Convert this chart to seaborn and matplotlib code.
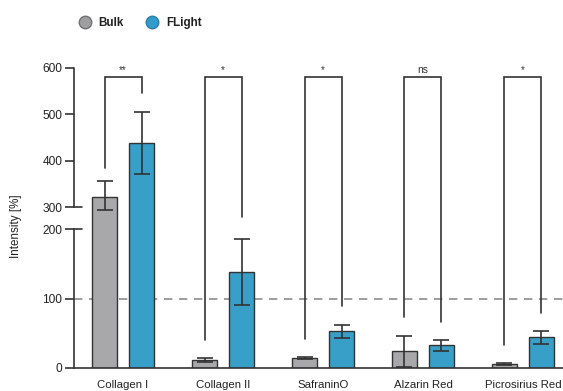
import numpy as np
import pandas as pd
import matplotlib
matplotlib.use("Agg")
import matplotlib.pyplot as plt
from matplotlib.lines import Line2D
import seaborn as sns

# ---- data ---------------------------------------------------------------
stains = ["Collagen I", "Collagen II", "SafraninO", "Alzarin Red", "Picrosirius Red"]
groups = ["Bulk", "FLight"]
bulk_mean = [322, 12, 15, 24, 6]
bulk_err = [35, 3, 1.5, 22, 1.5]
flight_mean = [438, 138, 53, 33, 44]
flight_err = [67, 48, 9.5, 8, 9]
sig_labels = ["**", "*", "*", "ns", "*"]
bracket_top = 580
bracket_left_end = [384, 40, 42, 73, 33]
bracket_right_end = [546, 255, 89, 66, 79]
reference_level = 100
yticks = [0, 100, 200, 300, 400, 500, 600]

GRAY = "#a8a8ab"
BLUE = "#389fc8"
INK = "#333333"

df = pd.DataFrame({
    "stain": stains * 2,
    "group": [groups[0]] * len(stains) + [groups[1]] * len(stains),
    "value": bulk_mean + flight_mean,
})

sns.set_theme(style="white")
plt.rcParams["font.family"] = ["Liberation Sans", "DejaVu Sans"]

W, H = 563, 391
fig = plt.figure(figsize=(W / 100, H / 100), dpi=100)
ax = fig.add_axes([74 / W, 23 / H, 499 / W, 300 / H])

# broken y scale: 0-200 on one step, 200-300 squeezed, 300-600 on a finer step
A, G, B = 139 / 200, 22 / 100, 139 / 300


def fwd(y):
    y = np.asarray(y, dtype=float)
    return np.where(y <= 200, y * A,
                    np.where(y <= 300, 200 * A + (y - 200) * G,
                             200 * A + 100 * G + (y - 300) * B))


def inv(v):
    v = np.asarray(v, dtype=float)
    v1 = 200 * A
    v2 = v1 + 100 * G
    return np.where(v <= v1, v / A,
                    np.where(v <= v2, 200 + (v - v1) / G, 300 + (v - v2) / B))


ax.axhline(reference_level, color="#8c8c8c", lw=1.2, ls=(0, (5, 4)), zorder=0.5)

sns.barplot(data=df, x="stain", y="value", hue="group", order=stains,
            hue_order=groups, palette={"Bulk": GRAY, "FLight": BLUE},
            saturation=1, width=0.74, gap=0.32, errorbar=None, edgecolor=INK,
            linewidth=1.0, legend=False, ax=ax, zorder=2)

ax.set_yscale("function", functions=(fwd, inv))
ax.set_ylim(0, 600)
ax.set_xlim(-0.49, 4.5)

# bar centres, sorted left to right (Bulk, FLight alternate within each stain)
bars = sorted(ax.patches, key=lambda p: p.get_x())
centers = [p.get_x() + p.get_width() / 2 for p in bars]
bulk_x = centers[0::2]
flight_x = centers[1::2]

ebkw = dict(fmt="none", ecolor=INK, elinewidth=1.2, capsize=5.6, capthick=1.2, zorder=3)
ax.errorbar(bulk_x, bulk_mean, yerr=bulk_err, **ebkw)
ax.errorbar(flight_x, flight_mean, yerr=flight_err, **ebkw)

# significance brackets
for xl, xr, yl, yr, lab in zip(bulk_x, flight_x, bracket_left_end,
                               bracket_right_end, sig_labels):
    ax.plot([xl, xl, xr, xr], [yl, bracket_top, bracket_top, yr],
            color=INK, lw=1.2, solid_joinstyle="miter", zorder=3, clip_on=False)
    ax.text((xl + xr) / 2, bracket_top + 4, lab, ha="center", va="bottom",
            fontsize=7.5 if lab == "ns" else 7, color=INK)

# axes styling
for s in ["left", "right", "top"]:
    ax.spines[s].set_visible(False)
ax.spines["bottom"].set_color(INK)
ax.spines["bottom"].set_linewidth(1.2)

ytr = ax.get_yaxis_transform()
ax.plot([0, 0], [0, 200], color=INK, lw=1.2, transform=ytr, clip_on=False)
ax.plot([0, 0], [300, 600], color=INK, lw=1.2, transform=ytr, clip_on=False)
for yb in (200, 300):
    ax.plot([0, 8 / 499], [yb, yb], color=INK, lw=1.2, transform=ytr, clip_on=False)

ax.set_yticks(yticks)
ax.set_yticklabels([str(t) for t in yticks])
ax.yaxis.set_minor_locator(matplotlib.ticker.NullLocator())
ax.tick_params(axis="y", left=True, length=6.5, width=1.2, color=INK,
               labelsize=8.6, labelcolor="#222222", pad=2)
ax.tick_params(axis="x", bottom=False, labelsize=8.2, labelcolor="#222222", pad=3)
ax.set_xlabel("")
ax.set_ylabel("Intensity [%]", fontsize=8.4, color="#222222")
ax.yaxis.set_label_coords(-0.104, 0.473)

handles = [
    Line2D([], [], ls="none", marker="o", markersize=9, markerfacecolor="#9e9ea1",
           markeredgecolor="#707070", markeredgewidth=1.0, label="Bulk"),
    Line2D([], [], ls="none", marker="o", markersize=9, markerfacecolor="#2f9ccc",
           markeredgecolor="#2a7ea6", markeredgewidth=1.0, label="FLight"),
]
leg = fig.legend(handles=handles, loc="center left", ncol=2, frameon=False,
                 bbox_to_anchor=(67 / W, 1 - 23 / H), handletextpad=0.55,
                 columnspacing=1.9, handlelength=1.2, fontsize=8.4)
for t in leg.get_texts():
    t.set_fontweight("bold")
    t.set_color("#222222")

fig.savefig("out.png", dpi=100, facecolor="white")
